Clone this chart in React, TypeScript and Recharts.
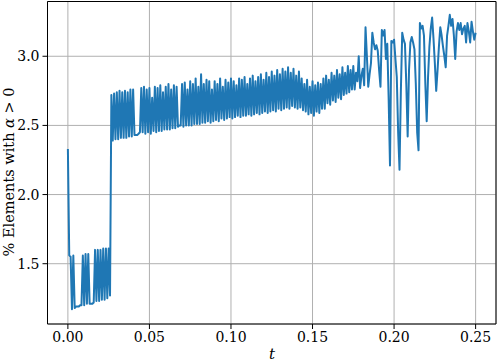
import React from 'react';
import { LineChart, Line, XAxis, YAxis, CartesianGrid, ReferenceLine, Label } from 'recharts';

// % of elements with alpha > 0, sampled uniformly in t from 0 to 0.25
const percentAlphaPositive = [
  2.33, 1.56, 1.55, 1.17, 1.56, 1.18, 1.19, 1.19, 1.19, 1.20,
  1.20, 1.56, 1.20, 1.57, 1.21, 1.57, 1.21, 1.21, 1.21, 1.22,
  1.60, 1.23, 1.60, 1.23, 1.60, 1.24, 1.61, 1.24, 1.61, 1.25,
  1.61, 1.27, 2.72, 2.39, 2.73, 2.40, 2.74, 2.40, 2.75, 2.41,
  2.74, 2.41, 2.75, 2.41, 2.74, 2.42, 2.76, 2.42, 2.76, 2.43,
  2.43, 2.43, 2.44, 2.45, 2.77, 2.45, 2.78, 2.44, 2.76, 2.45,
  2.77, 2.44, 2.70, 2.46, 2.78, 2.45, 2.77, 2.46, 2.79, 2.46,
  2.74, 2.47, 2.78, 2.47, 2.80, 2.47, 2.76, 2.48, 2.79, 2.48,
  2.78, 2.49, 2.50, 2.50, 2.80, 2.49, 2.81, 2.50, 2.76, 2.50,
  2.82, 2.50, 2.80, 2.51, 2.84, 2.51, 2.78, 2.51, 2.87, 2.52,
  2.80, 2.52, 2.83, 2.53, 2.82, 2.52, 2.76, 2.53, 2.82, 2.54,
  2.80, 2.53, 2.84, 2.55, 2.78, 2.54, 2.83, 2.55, 2.81, 2.56,
  2.84, 2.55, 2.82, 2.56, 2.79, 2.57, 2.84, 2.56, 2.83, 2.57,
  2.85, 2.57, 2.80, 2.58, 2.84, 2.57, 2.86, 2.58, 2.82, 2.59,
  2.85, 2.58, 2.87, 2.59, 2.83, 2.60, 2.88, 2.59, 2.85, 2.60,
  2.89, 2.61, 2.86, 2.60, 2.90, 2.62, 2.87, 2.61, 2.91, 2.62,
  2.89, 2.63, 2.92, 2.62, 2.88, 2.64, 2.91, 2.63, 2.86, 2.62,
  2.89, 2.63, 2.84, 2.61, 2.80, 2.60, 2.83, 2.58, 2.78, 2.59,
  2.82, 2.57, 2.79, 2.60, 2.81, 2.59, 2.80, 2.62, 2.84, 2.62,
  2.86, 2.66, 2.83, 2.65, 2.88, 2.68, 2.86, 2.67, 2.90, 2.70,
  2.87, 2.69, 2.92, 2.72, 2.88, 2.73, 2.93, 2.74, 2.90, 2.76,
  2.93, 2.76, 2.88, 2.82, 3.00, 2.77, 2.86, 2.91, 2.79, 3.21,
  3.00, 2.78, 2.87, 2.95, 3.17, 3.10, 3.05, 3.08, 3.04, 2.90,
  2.78, 3.19, 3.15, 3.19, 2.98, 3.09, 2.70, 2.21, 3.11, 3.10,
  3.12, 2.98, 2.85, 2.45, 2.18, 2.75, 3.17, 3.12, 3.09, 2.80,
  2.42, 2.90, 3.10, 3.14, 3.10, 3.05, 2.80, 2.45, 2.32, 3.24,
  3.20, 3.22, 3.15, 2.80, 2.53, 2.85, 3.07, 3.20, 3.28, 3.13,
  2.95, 2.75, 2.90, 3.07, 3.21, 3.15, 3.07, 3.00, 2.92, 3.15,
  3.22, 3.30, 3.22, 3.27, 3.15, 2.98, 3.18, 3.24, 3.19, 3.24,
  3.16, 3.20, 3.22, 3.10, 3.24, 3.18, 3.10, 3.25, 3.18, 3.12,
  3.17,
];

const T_START = 0;
const T_END = 0.25;
const sampleTimes = percentAlphaPositive.map(
  (_, i) => T_START + (i * (T_END - T_START)) / (percentAlphaPositive.length - 1)
);

const xTicks = [0, 0.05, 0.1, 0.15, 0.2, 0.25];
const yTicks = [1.5, 2.0, 2.5, 3.0];
const X_DOMAIN: [number, number] = [-0.0125, 0.2625];
const Y_DOMAIN: [number, number] = [1.064, 3.396];

const data = percentAlphaPositive.map((v, i) => ({ t: sampleTimes[i], v }));

const FONT = "'DejaVu Serif', serif";
const tickStyle = { fill: '#000', fontSize: 14, fontFamily: FONT };

export default function App() {
  return (
    <div style={{ position: 'absolute', left: 0, top: 0, width: 498, height: 363, background: '#fff' }}>
      <LineChart
        width={498}
        height={363}
        data={data}
        margin={{ top: 1.5, right: 2, bottom: 0, left: 0 }}
      >
        <CartesianGrid stroke="#b0b0b0" strokeWidth={1} />
        <XAxis
          type="number"
          dataKey="t"
          domain={X_DOMAIN}
          ticks={xTicks}
          allowDataOverflow
          tickFormatter={(v: number) => v.toFixed(2)}
          height={39}
          tickSize={5}
          tickMargin={3}
          axisLine={{ stroke: '#000', strokeWidth: 1 }}
          tickLine={{ stroke: '#000', strokeWidth: 1 }}
          tick={tickStyle}
        >
          <Label
            content={() => (
              <text x={272} y={359} textAnchor="middle" fontFamily={FONT} fontSize={15} fontStyle="italic" fill="#000">
                t
              </text>
            )}
          />
        </XAxis>
        <YAxis
          type="number"
          domain={Y_DOMAIN}
          ticks={yTicks}
          allowDataOverflow
          tickFormatter={(v: number) => v.toFixed(1)}
          width={47.5}
          tickSize={5}
          tickMargin={3}
          axisLine={{ stroke: '#000', strokeWidth: 1 }}
          tickLine={{ stroke: '#000', strokeWidth: 1 }}
          tick={tickStyle}
        >
          <Label
            content={() => (
              <text
                x={0}
                y={0}
                transform="translate(14, 172) rotate(-90)"
                textAnchor="middle"
                fontFamily={FONT}
                fontSize={14.5}
                fill="#000"
              >
                % Elements with <tspan fontStyle="italic">α</tspan> &gt; 0
              </text>
            )}
          />
        </YAxis>
        <ReferenceLine y={Y_DOMAIN[1]} stroke="#000" strokeWidth={1} />
        <ReferenceLine x={X_DOMAIN[1]} stroke="#000" strokeWidth={1} />
        <Line
          type="linear"
          dataKey="v"
          stroke="#1f77b4"
          strokeWidth={2}
          dot={false}
          strokeLinejoin="round"
          isAnimationActive={false}
        />
      </LineChart>
    </div>
  );
}
